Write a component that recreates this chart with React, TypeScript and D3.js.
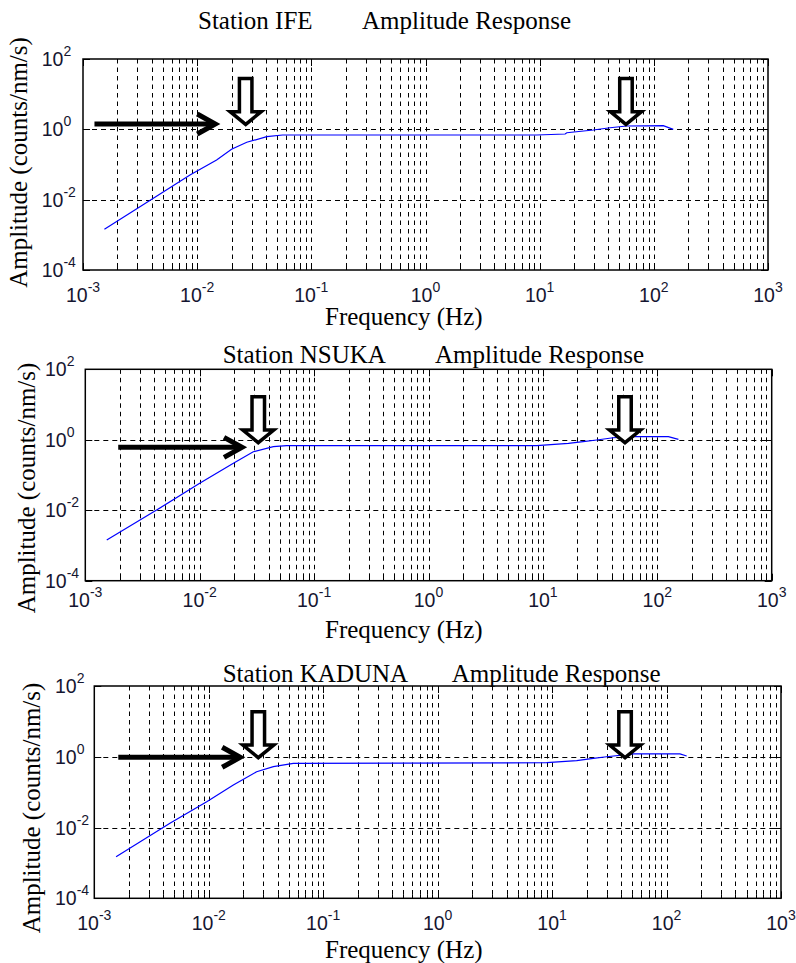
import React from "react";
import * as d3 from "d3";

// ---------- data ----------
const stationNames = ["Station IFE", "Station NSUKA", "Station KADUNA"];
const titleSuffix = "Amplitude Response";
const xAxisLabel = "Frequency (Hz)";
const yAxisLabel = "Amplitude (counts/nm/s)";

const xTickExponents = [-3, -2, -1, 0, 1, 2, 3];
const yTickExponents = [-4, -2, 0, 2];

const ifeFreq = [0.00154, 0.00394, 0.00865, 0.0148, 0.020, 0.0272, 0.0407, 0.056, 9.42, 16.7, 17.3, 29.5, 41.3, 57.8, 121, 148];
const ifeAmp = [0.00145, 0.0100, 0.0504, 0.134, 0.271, 0.428, 0.618, 0.69, 0.69, 0.736, 0.80, 0.957, 1.11, 1.245, 1.27, 1.0];

const nsukaFreq = [0.00154, 0.0042, 0.010, 0.0197, 0.0294, 0.044, 0.0575, 8.83, 16.7, 22.5, 29.5, 41.2, 61.7, 125, 153];
const nsukaAmp = [0.00143, 0.0101, 0.058, 0.215, 0.458, 0.636, 0.678, 0.678, 0.794, 0.882, 0.984, 1.14, 1.22, 1.22, 1.03];

const kadunaFreq = [0.00155, 0.00458, 0.0096, 0.0164, 0.0262, 0.0367, 0.0548, 8.98, 16.4, 22.9, 30, 51.3, 131, 150];
const kadunaAmp = [0.0015, 0.0132, 0.0537, 0.159, 0.378, 0.524, 0.653, 0.68, 0.774, 0.904, 1.0, 1.20, 1.20, 1.05];

// annotation arrows (data coordinates)
const hArrowStartFreq = [0.00126, 0.00194, 0.00162];
const hArrowTipFreq = [0.0153, 0.0249, 0.020];
const hArrowAmp = [1.42, 0.61, 0.966];
const vArrowFreqs = [[0.0266, 57.0], [0.0325, 52.2], [0.0271, 43.4]];
const vArrowTipAmp = [1.19, 0.71, 0.81];

// ---------- layout ----------
const layouts = [
  { left: 83, right: 768, top: 59, bottom: 270, t1x: 198, t2x: 362, ty: 29.3, xlabY: 325, ylabX: 27, ylabY: 162.5, yTickX: 41.7, xTickDy: 31.7 },
  { left: 85.3, right: 771.7, top: 369.3, bottom: 580.7, t1x: 222.7, t2x: 435, ty: 363.3, xlabY: 638.3, ylabX: 35, ylabY: 488, yTickX: 45, xTickDy: 26 },
  { left: 94.3, right: 781, top: 686, bottom: 898.3, t1x: 222.7, t2x: 451.7, ty: 681.7, xlabY: 958.3, ylabX: 40, ylabY: 808, yTickX: 55, xTickDy: 31.7 },
];

const series = [
  { freq: ifeFreq, amp: ifeAmp },
  { freq: nsukaFreq, amp: nsukaAmp },
  { freq: kadunaFreq, amp: kadunaAmp },
];

const SERIF = "'Liberation Serif', 'Times New Roman', Times, serif";
const SANS = "'Liberation Sans', Arial, Helvetica, sans-serif";
const crisp = (v: number) => Math.round(v) + 0.5;

function BlockArrow({ tx, ty }: { tx: number; ty: number }) {
  const top = ty - 50 + 1.75;
  const hb = ty - 16.7 + 1.75;
  const tip = ty - 2.3;
  const sw = 6.25;
  const hw = 15.5;
  const d = `M${tx - sw},${top}L${tx + sw},${top}L${tx + sw},${hb}L${tx + hw},${hb}L${tx},${tip}L${tx - hw},${hb}L${tx - sw},${hb}Z`;
  return <path d={d} fill="#fff" stroke="#000" strokeWidth={3.5} strokeLinejoin="miter" strokeMiterlimit={10} />;
}

function LineArrow({ x0, x1, y }: { x0: number; x1: number; y: number }) {
  const tip = x1 - 3;
  return (
    <g>
      <line x1={x0} x2={tip - 2} y1={y} y2={y} stroke="#000" strokeWidth={5} />
      <polyline
        points={`${tip - 18},${y - 10} ${tip},${y} ${tip - 18},${y + 10}`}
        fill="none"
        stroke="#000"
        strokeWidth={5}
        strokeLinejoin="miter"
        strokeMiterlimit={10}
      />
    </g>
  );
}

function Panel({ i }: { i: number }) {
  const L = layouts[i];
  const { freq, amp } = series[i];
  const x = d3.scaleLog().domain([1e-3, 1e3]).range([L.left, L.right]);
  const y = d3.scaleLog().domain([1e-4, 1e2]).range([L.bottom, L.top]);
  const allX = x.ticks();
  const isMajor = (v: number) => Math.abs(Math.log10(v) - Math.round(Math.log10(v))) < 1e-9;
  const gridX = allX.filter((v) => v > 1.0001e-3 && v < 0.9999e3);
  const yMajor = yTickExponents.map((e) => Math.pow(10, e));
  const gridY = yMajor.filter((v) => v > 1.0001e-4 && v < 0.9999e2);
  const pts = freq.map((f, k) => [f, amp[k]] as [number, number]);
  const line = d3.line<[number, number]>().x((d) => x(d[0])).y((d) => y(d[1]));

  return (
    <g>
      {/* grid */}
      {gridX.map((v, k) => (
        <line key={"gx" + k} x1={crisp(x(v))} x2={crisp(x(v))} y1={L.top} y2={L.bottom} stroke="#000" strokeWidth={1} strokeDasharray="4.5,4" />
      ))}
      {gridY.map((v, k) => (
        <line key={"gy" + k} x1={L.left} x2={L.right} y1={crisp(y(v))} y2={crisp(y(v))} stroke="#000" strokeWidth={1} strokeDasharray="5,4" />
      ))}
      {/* ticks */}
      {allX.map((v, k) => {
        const len = isMajor(v) ? 7 : 4;
        return (
          <g key={"tx" + k}>
            <line x1={crisp(x(v))} x2={crisp(x(v))} y1={L.bottom} y2={L.bottom - len} stroke="#000" strokeWidth={1} />
            <line x1={crisp(x(v))} x2={crisp(x(v))} y1={L.top} y2={L.top + len} stroke="#000" strokeWidth={1} />
          </g>
        );
      })}
      {yMajor.map((v, k) => (
        <g key={"ty" + k}>
          <line x1={L.left} x2={L.left + 7} y1={crisp(y(v))} y2={crisp(y(v))} stroke="#000" strokeWidth={1} />
          <line x1={L.right} x2={L.right - 7} y1={crisp(y(v))} y2={crisp(y(v))} stroke="#000" strokeWidth={1} />
        </g>
      ))}
      {/* curve */}
      <path d={line(pts) || ""} fill="none" stroke="#0000ff" strokeWidth={1.2} />
      {/* box */}
      <rect x={L.left} y={L.top} width={L.right - L.left} height={L.bottom - L.top} fill="none" stroke="#000" strokeWidth={1.5} />
      {/* x tick labels */}
      {xTickExponents.map((e) => (
        <text key={"xl" + e} x={x(Math.pow(10, e))} y={L.bottom + L.xTickDy} textAnchor="middle" fontFamily={SANS} fontSize={19.5} fill="#151530">
          <tspan>10</tspan>
          <tspan dy={-10} fontSize={14}>{String(e)}</tspan>
        </text>
      ))}
      {/* y tick labels */}
      {yTickExponents.map((e) => (
        <text key={"yl" + e} x={L.yTickX} y={y(Math.pow(10, e)) + 7} textAnchor="start" fontFamily={SANS} fontSize={19.5} fill="#151530">
          <tspan>10</tspan>
          <tspan dy={-10} fontSize={14}>{String(e)}</tspan>
        </text>
      ))}
      {/* titles */}
      <text x={L.t1x} y={L.ty} fontFamily={SERIF} fontSize={25} fill="#000">{stationNames[i]}</text>
      <text x={L.t2x} y={L.ty} fontFamily={SERIF} fontSize={25} fill="#000">{titleSuffix}</text>
      <text x={325} y={L.xlabY} fontFamily={SERIF} fontSize={25} fill="#000">{xAxisLabel}</text>
      <text
        x={0}
        y={0}
        transform={`translate(${L.ylabX},${L.ylabY}) rotate(-90)`}
        textAnchor="middle"
        fontFamily={SERIF}
        fontSize={25}
        fill="#000"
      >
        {yAxisLabel}
      </text>
      {/* arrows */}
      <LineArrow x0={x(hArrowStartFreq[i])} x1={x(hArrowTipFreq[i])} y={y(hArrowAmp[i])} />
      {vArrowFreqs[i].map((f, k) => (
        <BlockArrow key={"va" + k} tx={x(f)} ty={y(vArrowTipAmp[i])} />
      ))}
    </g>
  );
}

export default function App() {
  return (
    <svg width={796} height={963} style={{ position: "absolute", left: 0, top: 0, background: "#fff" }}>
      <rect x={0} y={0} width={796} height={963} fill="#fff" />
      {[0, 1, 2].map((i) => (
        <Panel key={i} i={i} />
      ))}
    </svg>
  );
}
